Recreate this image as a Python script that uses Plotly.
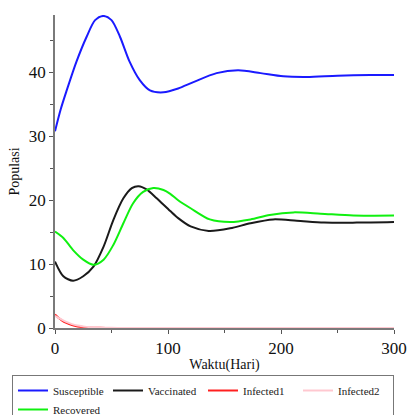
import plotly.graph_objects as go

# Time samples (days) and population values for each compartment
t_s = [0, 5, 10, 19, 28, 35.5, 42.8, 50, 57.5, 66, 75, 84, 96, 109, 122.5, 143, 162, 182, 202, 223, 250, 279, 300]
susceptible = [30.8, 34.2, 37.0, 41.7, 45.6, 48.2, 48.85, 48.2, 45.6, 41.7, 38.8, 37.2, 36.9, 37.5, 38.5, 39.9, 40.35, 39.9, 39.4, 39.3, 39.5, 39.6, 39.6]

t_v = [0, 7.4, 16, 25, 34, 43, 51.6, 60.5, 68, 74, 81, 90, 102, 109, 120, 136, 155, 173, 193, 214, 238, 267, 300]
vaccinated = [10.4, 8.1, 7.4, 8.1, 9.6, 12.75, 16.9, 20.3, 21.9, 22.2, 21.7, 20.3, 18.3, 17.2, 15.9, 15.2, 15.6, 16.4, 17.0, 16.8, 16.5, 16.5, 16.6]

t_i = [0, 3, 6, 10, 15, 20, 25, 30, 40, 50, 60, 100, 200, 300]
infected1 = [2.1, 1.6, 1.2, 0.8, 0.45, 0.25, 0.15, 0.08, 0.03, 0.01, 0.0, 0.0, 0.0, 0.0]
infected2 = [1.9, 1.6, 1.3, 0.95, 0.6, 0.38, 0.25, 0.15, 0.06, 0.02, 0.01, 0.0, 0.0, 0.0]

t_r = [0, 7.4, 16, 25, 34, 43, 51.6, 60.5, 69, 78, 87, 96, 102, 109, 120, 137, 155, 173, 190, 211, 235, 264, 300]
recovered = [15.1, 14.1, 12.2, 10.7, 9.9, 10.7, 13.0, 16.4, 19.5, 21.3, 21.9, 21.6, 21.0, 20.0, 18.75, 17.0, 16.6, 17.0, 17.7, 18.1, 17.9, 17.6, 17.6]

serif = "Liberation Serif, Times New Roman, serif"

fig = go.Figure()
fig.add_trace(go.Scatter(x=t_s, y=susceptible, name="Susceptible", mode="lines",
                         line=dict(color="#1a1aff", width=2, shape="spline", smoothing=0.8)))
fig.add_trace(go.Scatter(x=t_v, y=vaccinated, name="Vaccinated", mode="lines",
                         line=dict(color="#1a1a1a", width=2, shape="spline", smoothing=0.8)))
fig.add_trace(go.Scatter(x=t_i, y=infected1, name="Infected1", mode="lines",
                         line=dict(color="#ff2020", width=2, shape="spline", smoothing=0.6)))
fig.add_trace(go.Scatter(x=t_i, y=infected2, name="Infected2", mode="lines",
                         line=dict(color="#ffc8d0", width=2, shape="spline", smoothing=0.6)))
fig.add_trace(go.Scatter(x=t_r, y=recovered, name="Recovered", mode="lines",
                         line=dict(color="#10f010", width=2, shape="spline", smoothing=0.8)))

axis_common = dict(
    showline=True, linecolor="#7a7a7a", linewidth=1.5,
    showgrid=False, zeroline=False,
    ticks="outside", ticklen=4, tickcolor="#555555", tickwidth=1,
    tickfont=dict(family=serif, size=17, color="#111111"),
    layer="above traces",
)

fig.update_xaxes(
    range=[0, 300], dtick=100, tick0=0,
    minor=dict(dtick=50, ticks="outside", ticklen=3, tickcolor="#555555"),
    title=dict(text="Waktu(Hari)", font=dict(family=serif, size=14, color="#111111"), standoff=2),
    **axis_common,
)
fig.update_yaxes(
    range=[0, 49], dtick=10, tick0=0,
    minor=dict(dtick=5, ticks="outside", ticklen=3, tickcolor="#555555"),
    title=dict(text="Populasi", font=dict(family=serif, size=14, color="#111111"), standoff=6),
    **axis_common,
)

fig.update_layout(
    width=410, height=415,
    margin=dict(l=55, r=16, t=15, b=87, autoexpand=False),
    plot_bgcolor="white", paper_bgcolor="white",
    showlegend=True,
    legend=dict(
        orientation="h",
        x=-43 / 339, xanchor="left", y=-47 / 313, yanchor="top",
        bordercolor="#777777", borderwidth=1, bgcolor="white",
        font=dict(family=serif, size=11, color="#222222"),
        entrywidth=50, entrywidthmode="pixels", tracegroupgap=0,
        itemwidth=30,
    ),
)

fig.write_html("out.html")
